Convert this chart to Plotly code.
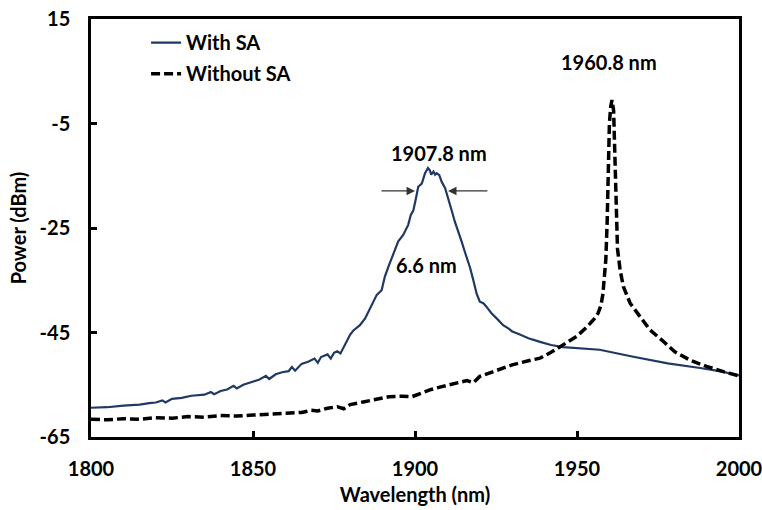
import plotly.graph_objects as go

# ---- Data ----
with_sa_wl = [1800, 1805, 1810, 1815, 1818, 1820, 1822, 1823, 1825, 1828, 1831, 1833, 1835, 1837, 1838,
              1840, 1842, 1844, 1845, 1847, 1849, 1850, 1852, 1854, 1855, 1857, 1859, 1861, 1862, 1863,
              1865, 1867, 1869, 1870, 1871, 1873, 1874, 1875, 1876, 1877, 1878, 1879, 1880, 1881, 1883,
              1884.6, 1886.6, 1888.2, 1889.7, 1890.7, 1891.8, 1893.3, 1894.8, 1896.4, 1897.9, 1898.7,
              1899.5, 1900.3, 1901.0, 1902.1, 1903.1, 1904.0, 1904.6, 1905.0, 1905.7, 1906.2, 1906.7,
              1907.5, 1908.2, 1909.3, 1910.3, 1911.3, 1912.3, 1913.4, 1914.4, 1915.4, 1916.4, 1917.0,
              1918.0, 1919.0, 1920.0, 1921.1, 1922.1, 1923.6, 1925.2, 1927.2, 1928.8, 1930, 1932, 1935,
              1938.6, 1942, 1945.7, 1950, 1957, 1967, 1978, 1988, 1994, 2000]
with_sa_dbm = [-59.4, -59.3, -59.0, -58.8, -58.5, -58.4, -58.0, -58.4, -57.7, -57.5, -57.1, -57.0, -56.9, -56.4, -56.8,
               -56.2, -55.9, -55.2, -55.7, -55.0, -54.6, -54.3, -54.0, -53.3, -53.9, -53.0, -52.6, -52.4, -51.6, -52.3,
               -51.0, -50.6, -50.0, -50.8, -49.7, -49.2, -50.0, -48.9, -48.6, -49.0, -47.8, -46.6, -45.4, -44.6, -43.6,
               -42.3, -39.7, -37.8, -36.9, -34.3, -32.4, -30.0, -27.6, -26.3, -24.4, -22.5,
               -21.6, -19.3, -17.1, -16.5, -14.5, -13.5, -14.0, -14.8, -14.2, -14.8, -14.5,
               -14.9, -16.1, -17.4, -19.3, -21.6, -23.8, -25.7, -27.6, -29.6, -31.5, -32.6,
               -35.0, -37.5, -39.1, -39.4, -40.1, -41.3, -42.3, -43.6, -44.2, -44.8, -45.3, -46.1,
               -46.8, -47.4, -47.8, -48.0, -48.3, -49.6, -50.9, -51.8, -52.4, -53.2]

without_sa_wl = [1800, 1805, 1810, 1815, 1820, 1825, 1830, 1835, 1840, 1845, 1850, 1855, 1860, 1865, 1868,
                 1870, 1873, 1876, 1878, 1880, 1884, 1888, 1892, 1896, 1899, 1902, 1905, 1908, 1912, 1916,
                 1918, 1920, 1925, 1930, 1935, 1938.6, 1942, 1945.7, 1950, 1953.1, 1955.3, 1956.5, 1957.4,
                 1958.0, 1958.5, 1958.9, 1959.3, 1959.6, 1960.0, 1960.4, 1960.8, 1961.3, 1961.7, 1962.0,
                 1962.5, 1963.3, 1964.3, 1966.4, 1969.0, 1972.5, 1976.1, 1980.2, 1984.9, 1990.0, 1995.2, 2000]
without_sa_dbm = [-61.6, -61.7, -61.5, -61.6, -61.3, -61.4, -61.1, -61.2, -60.9, -61.0, -60.8, -60.6, -60.4, -60.3, -59.9,
                  -60.0, -59.5, -59.2, -59.6, -58.8, -58.3, -57.8, -57.3, -57.2, -57.3, -56.6, -55.9, -55.4, -54.8, -54.2,
                  -54.6, -53.4, -52.3, -51.2, -50.4, -49.9, -48.8, -47.4, -45.7, -43.9, -42.4, -41.3, -39.8,
                  -37.6, -34.6, -31.0, -24.0, -14.0, -5.0, -1.8, -0.5, -2.5, -10.0, -20.0,
                  -29.0, -33.0, -36.2, -39.4, -41.6, -44.5, -46.4, -48.7, -50.3, -51.5, -52.5, -53.3]

series_names = ["With SA", "Without SA"]
x_ticks = [1800, 1850, 1900, 1950, 2000]
y_ticks = [15, -5, -25, -45, -65]

peak_with_label = "1907.8 nm"
peak_without_label = "1960.8 nm"
fwhm_label = "6.6 nm"

FONT = "Lato"
FS = 20

fig = go.Figure()
fig.add_trace(go.Scatter(x=with_sa_wl, y=with_sa_dbm, mode="lines", name=series_names[0],
                         legendgroup="a",
                         line=dict(color="#203864", width=2.2)))
fig.add_trace(go.Scatter(x=without_sa_wl, y=without_sa_dbm, mode="lines", name=series_names[1],
                         legendgroup="b",
                         line=dict(color="#000000", width=3.5, dash="9px,4px")))

ann_font = dict(family=FONT, size=FS, color="#000000", weight="bold")
annotations = [
    dict(x=1907.4, y=-10.6, xref="x", yref="y", text=peak_with_label, showarrow=False, font=ann_font),
    dict(x=1959.9, y=6.8, xref="x", yref="y", text=peak_without_label, showarrow=False, font=ann_font),
    dict(x=1903.4, y=-32.1, xref="x", yref="y", text=fwhm_label, showarrow=False, font=ann_font),
    dict(x=1900.0, y=-17.9, ax=1889.2, ay=-17.9, xref="x", yref="y", axref="x", ayref="y",
         text="", showarrow=True, arrowhead=2, arrowsize=1.3, arrowwidth=1.3, arrowcolor="#333333"),
    dict(x=1910.2, y=-17.9, ax=1922.8, ay=-17.9, xref="x", yref="y", axref="x", ayref="y",
         text="", showarrow=True, arrowhead=2, arrowsize=1.3, arrowwidth=1.3, arrowcolor="#333333"),
]

axis_common = dict(showline=True, linecolor="#000000", linewidth=2.5, mirror=True,
                   ticks="inside", ticklen=6, tickwidth=2.5, tickcolor="#000000",
                   showgrid=False, zeroline=False, automargin=False, ticklabeloverflow="allow")

fig.update_layout(
    width=762, height=510,
    margin=dict(l=91, r=23, t=19, b=73),
    paper_bgcolor="white", plot_bgcolor="white",
    font=dict(family=FONT, size=FS, color="#000000", weight="bold"),
    showlegend=True,
    legend=dict(x=0.085, y=0.99, xanchor="left", yanchor="top", bgcolor="rgba(0,0,0,0)",
                font=dict(family=FONT, size=FS, color="#000000", weight="bold"),
                tracegroupgap=2, traceorder="grouped"),
    annotations=annotations,
    xaxis=dict(range=[1800, 2000], tickvals=x_ticks, ticktext=[str(v) for v in x_ticks],
               title=dict(text="Wavelength (nm)", standoff=10,
                          font=dict(family=FONT, size=FS, weight="bold")),
               ticklabelstandoff=12, **axis_common),
    yaxis=dict(range=[-65, 15], tickvals=y_ticks, ticktext=[str(v) for v in y_ticks],
               title=dict(text="Power (dBm)", standoff=8,
                          font=dict(family=FONT, size=FS, weight="bold")),
               ticklabelstandoff=14, **axis_common),
)

fig.write_html("out.html")
